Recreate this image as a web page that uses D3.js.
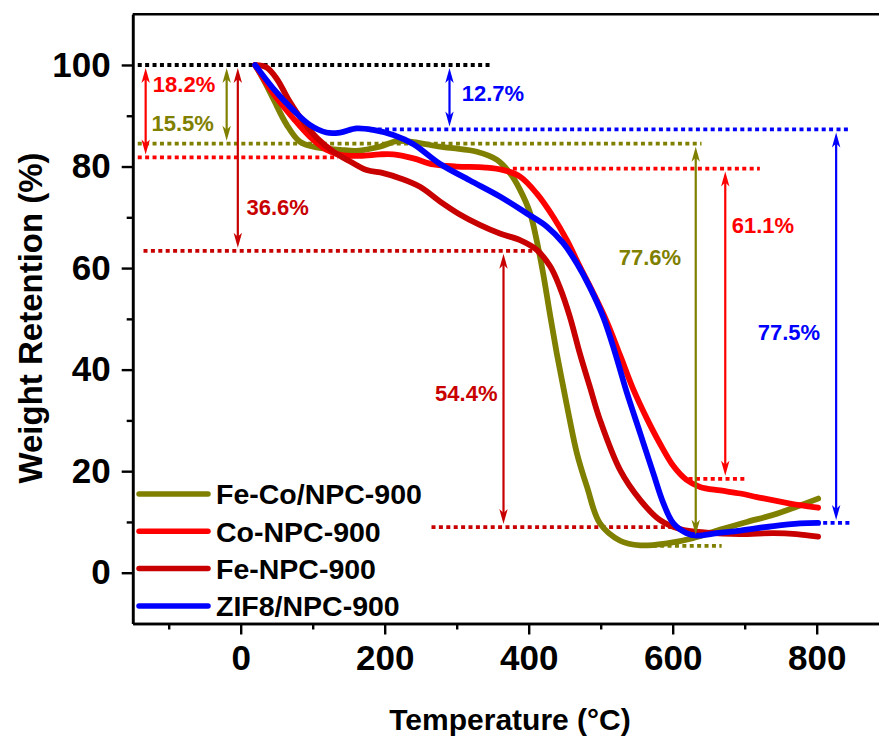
<!DOCTYPE html>
<html>
<head>
<meta charset="utf-8">
<script src="https://cdn.jsdelivr.net/npm/d3@7"></script>
<style>
  body { margin: 0; background: #fff; }
  svg { display: block; }
  text { font-family: "Liberation Sans", Arial, sans-serif; font-weight: bold; }
</style>
</head>
<body>
<svg id="chart" width="879" height="740"></svg>
<script>
// ---- TGA curves (temperature in °C, weight retention in %) ----
const seriesNames  = ["Fe-Co/NPC-900", "Co-NPC-900", "Fe-NPC-900", "ZIF8/NPC-900"];
const seriesColors = ["#808000", "#ff0000", "#c80000", "#0000ff"];

const tempFeCo = [20, 32, 45, 64, 82, 101, 120, 138, 161, 193, 217, 240, 277, 295, 328, 356, 374, 388, 402, 411, 420, 430, 439, 448, 457, 467, 481, 499, 527, 555, 592, 628, 666, 703, 740, 772, 802];
const wFeCo    = [100, 97, 93.4, 88.2, 84.9, 83.9, 83.5, 83.3, 83.1, 83.9, 85.0, 84.8, 83.9, 83.6, 82.9, 81.3, 78.7, 75.4, 70.8, 65.5, 59, 50.5, 43.2, 36.6, 30.1, 23.5, 16.9, 9.7, 6.3, 5.4, 5.8, 6.8, 8.5, 10.0, 11.4, 13.0, 14.6];

const tempCo = [20, 45, 73, 96, 119, 138, 166, 193, 212, 240, 268, 300, 340, 365, 388, 411, 434, 453, 471, 490, 508, 527, 545, 564, 582, 601, 619, 638, 666, 694, 717, 763, 802];
const wCo    = [100, 94.4, 89.5, 85.9, 83.3, 82.3, 82.1, 82.4, 82.4, 81.6, 80.4, 80.0, 79.8, 79.3, 78.0, 74.7, 70.1, 65.5, 60.3, 55.0, 49.6, 42.8, 36.2, 30.4, 25.5, 21.0, 18.3, 16.9, 16.2, 15.6, 14.9, 13.6, 12.8];

const tempFe = [20, 36, 50, 68, 87, 106, 129, 152, 175, 198, 221, 249, 277, 305, 332, 360, 388, 411, 430, 443, 457, 471, 485, 499, 527, 555, 582, 610, 647, 693, 740, 772, 802];
const wFe    = [100, 99.5, 97.3, 92.8, 88.8, 85.6, 82.9, 81.0, 79.3, 78.7, 77.7, 76.0, 73.1, 70.5, 68.5, 66.8, 65.5, 63.6, 60.3, 56.3, 50.5, 43.2, 36.6, 30.1, 20.2, 14.3, 10.4, 8.6, 7.9, 7.6, 7.8, 7.6, 7.1];

const tempZIF = [20, 45, 73, 96, 119, 138, 161, 184, 212, 240, 277, 318, 360, 397, 425, 448, 467, 485, 504, 520, 536, 555, 573, 587, 601, 619, 633, 661, 694, 740, 777, 802];
const wZIF    = [100, 95.4, 91.1, 88.2, 86.7, 86.7, 87.5, 87.2, 86.2, 84.4, 80.5, 77.3, 74.1, 70.8, 68.2, 64.9, 60.9, 56.2, 50.2, 43.3, 35.6, 27.4, 19.6, 13.7, 9.7, 7.8, 7.3, 7.8, 8.3, 9.2, 9.7, 9.8];

const seriesTemps   = [tempFeCo, tempCo, tempFe, tempZIF];
const seriesWeights = [wFeCo, wCo, wFe, wZIF];

// ---- dotted reference levels: level (%), start and end temperature ----
const guideLevels = [100, 84.5, 81.8, 79.6, 63.4, 9.0, 18.5, 5.3, 87.3, 9.8];
const guideFrom   = [-143, -143, -143, 378, -135, 265, 622, 562, 180, 809];
const guideTo     = [350, 640, 135, 721, 409, 600, 703, 668, 846, 848];
const guideColors = ["#000000", "#808000", "#ff0000", "#ff0000", "#c80000", "#c80000", "#ff0000", "#808000", "#0000ff", "#0000ff"];

// ---- weight-loss arrows: temperature position, upper level, loss (%) ----
const arrowTemps  = [-132, -19.5, -4, 290, 365, 673, 632, 827];
const arrowTop    = [100, 100, 100, 100, 63.4, 79.6, 84.5, 87.3];
const arrowLoss   = [18.2, 15.5, 36.6, 12.7, 54.4, 61.1, 77.6, 77.5];
const arrowColors = ["#ff0000", "#808000", "#c80000", "#0000ff", "#c80000", "#ff0000", "#808000", "#0000ff"];
// label anchor (left edge temperature, vertical centre in %)
const labelTemps  = [-122, -124, 8, 307, 270, 682, 525, 718];
const labelLevels = [96.3, 88.6, 72.1, 94.4, 35.4, 68.5, 62.2, 47.3];

// ---- axes ----
const xDomain = [-150, 900];
const yDomain = [-10, 110];
const xMajorTicks = [0, 200, 400, 600, 800];
const xMinorTicks = [-100, 100, 300, 500, 700];
const yMajorTicks = [0, 20, 40, 60, 80, 100];
const yMinorTicks = [10, 30, 50, 70, 90];

const svg = d3.select("#chart");
const plot = { left: 132.7, right: 888.7, top: 14.2, bottom: 623.5 };

const x = d3.scaleLinear().domain(xDomain).range([plot.left, plot.right]);
const y = d3.scaleLinear().domain(yDomain).range([plot.bottom, plot.top]);

// dotted guide lines (beneath the curves)
const guides = svg.append("g");
guideLevels.forEach((lv, i) => {
  guides.append("line")
    .attr("x1", x(guideFrom[i])).attr("x2", x(guideTo[i]))
    .attr("y1", y(lv)).attr("y2", y(lv))
    .attr("stroke", guideColors[i])
    .attr("stroke-width", 3.8)
    .attr("stroke-dasharray", "4 3.4");
});

// curves
const line = d3.line()
  .x(d => x(d[0])).y(d => y(d[1]))
  .curve(d3.curveCatmullRom.alpha(0.5));

seriesTemps.forEach((temps, i) => {
  const pts = temps.map((t, j) => [t, seriesWeights[i][j]]);
  svg.append("path")
    .datum(pts)
    .attr("d", line)
    .attr("fill", "none")
    .attr("stroke", seriesColors[i])
    .attr("stroke-width", 5.8)
    .attr("stroke-linejoin", "round")
    .attr("stroke-linecap", "round");
});

// double-headed arrows with labels
const arrows = svg.append("g");
function head(px, py, dir, color) {
  // dir = -1 points up, +1 points down; tip at (px, py)
  const L = 15, W = 4.2, N = 11;
  const p = [[px, py], [px - W, py - dir * L], [px, py - dir * N], [px + W, py - dir * L]];
  arrows.append("path")
    .attr("d", "M" + p.map(q => q.join(",")).join("L") + "Z")
    .attr("fill", color);
}
arrowTemps.forEach((t, i) => {
  const px = x(t);
  const yTop = y(arrowTop[i]) + 3;
  const yBot = y(arrowTop[i] - arrowLoss[i]) - 3;
  arrows.append("line")
    .attr("x1", px).attr("x2", px)
    .attr("y1", yTop + 8).attr("y2", yBot - 8)
    .attr("stroke", arrowColors[i]).attr("stroke-width", 2.2);
  head(px, yTop, -1, arrowColors[i]);
  head(px, yBot, 1, arrowColors[i]);
  arrows.append("text")
    .attr("x", x(labelTemps[i]))
    .attr("y", y(labelLevels[i]))
    .attr("dy", "0.36em")
    .attr("fill", arrowColors[i])
    .attr("font-size", 22)
    .text(arrowLoss[i].toFixed(1) + "%");
});

// axes
const axisG = svg.append("g").attr("font-size", 35);

axisG.append("g")
  .attr("transform", `translate(0,${plot.bottom})`)
  .call(d3.axisBottom(x).tickValues(xMajorTicks).tickSize(11).tickPadding(11).tickSizeOuter(0));
axisG.append("g")
  .attr("transform", `translate(0,${plot.bottom})`)
  .call(d3.axisBottom(x).tickValues(xMinorTicks).tickSize(6).tickFormat("").tickSizeOuter(0));

axisG.append("g")
  .attr("transform", `translate(${plot.left},0)`)
  .call(d3.axisLeft(y).tickValues(yMajorTicks).tickSize(11).tickPadding(11).tickSizeOuter(0));
axisG.append("g")
  .attr("transform", `translate(${plot.left},0)`)
  .call(d3.axisLeft(y).tickValues(yMinorTicks).tickSize(6).tickFormat("").tickSizeOuter(0));

axisG.selectAll(".domain").attr("stroke", "#000").attr("stroke-width", 2.6);
axisG.selectAll(".tick line").attr("stroke", "#000").attr("stroke-width", 2.4);
axisG.selectAll(".tick text")
  .attr("fill", "#000")
  .attr("font-family", "'Liberation Sans', Arial, sans-serif")
  .attr("font-weight", "bold")
  .attr("font-size", 35);

// top and right frame
svg.append("line")
  .attr("x1", plot.left).attr("x2", plot.right)
  .attr("y1", plot.top).attr("y2", plot.top)
  .attr("stroke", "#000").attr("stroke-width", 2.6);
svg.append("line")
  .attr("x1", plot.right).attr("x2", plot.right)
  .attr("y1", plot.top).attr("y2", plot.bottom)
  .attr("stroke", "#000").attr("stroke-width", 2.6);

// axis titles
svg.append("text")
  .attr("x", 510).attr("y", 730)
  .attr("text-anchor", "middle")
  .attr("font-size", 30)
  .text("Temperature (°C)");

svg.append("text")
  .attr("transform", "translate(42,318) rotate(-90)")
  .attr("text-anchor", "middle")
  .attr("font-size", 33)
  .text("Weight Retention (%)");

// legend
const legend = svg.append("g").attr("transform", "translate(139,494)");
seriesNames.forEach((name, i) => {
  const gy = i * 37.3;
  legend.append("line")
    .attr("x1", 0).attr("x2", 69).attr("y1", gy).attr("y2", gy)
    .attr("stroke", seriesColors[i]).attr("stroke-width", 5.5)
    .attr("stroke-linecap", "round");
  legend.append("text")
    .attr("x", 77).attr("y", gy).attr("dy", "0.36em")
    .attr("font-size", 28.5)
    .attr("fill", "#000")
    .text(name);
});
</script>
</body>
</html>
